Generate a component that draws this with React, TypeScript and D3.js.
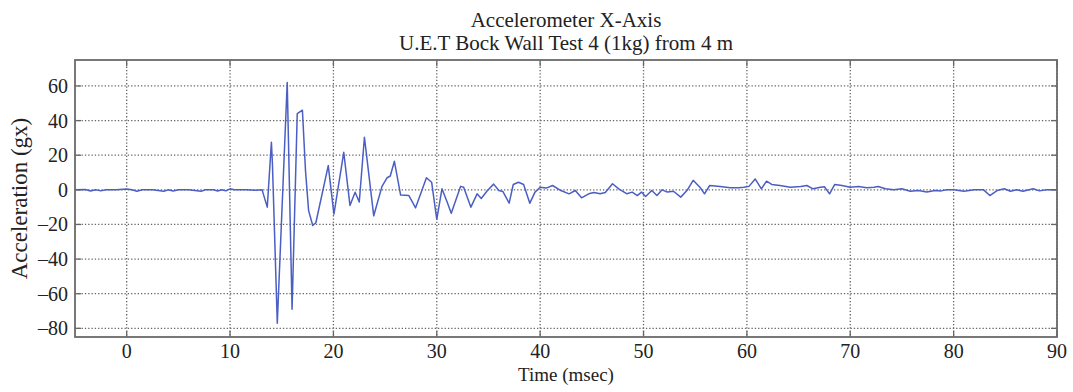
import React, { useEffect, useRef } from 'react'
import * as d3 from 'd3'

// Sample times (msec) and accelerometer readings (gx)
const timeMs = [
  -5, -4, -3.5, -3, -2.5, -2, -1, 0, 0.5, 1, 1.5, 2.5, 3.6, 4, 4.5, 5, 6, 7.2, 7.6, 8.4, 8.8, 9.2, 9.6,
  10, 10.4, 11.5, 12.5, 13.1, 13.6, 14, 14.1, 14.57, 15.53, 16, 16.5, 17, 17.3, 17.6, 18, 18.3, 19.5,
  20.05, 21, 21.6, 22.1, 22.5, 23, 23.9, 24.7, 25.2, 25.5, 25.9, 26.5, 27.3, 27.95, 29, 29.5, 30, 30.5,
  31, 31.4, 32.3, 32.6, 33.3, 33.9, 34.3, 34.9, 35.5, 36, 36.4, 37, 37.4, 37.9, 38.4, 39, 39.5, 40, 40.6,
  41.2, 42, 42.8, 43.4, 44, 44.7, 45.2, 45.8, 46.3, 47, 47.6, 48.4, 48.9, 49.4, 49.8, 50.2, 50.8, 51.3,
  51.8, 52.3, 52.9, 53.6, 54.2, 54.8, 55.5, 55.9, 56.4, 57.4, 58.4, 59.2, 59.7, 60.2, 60.8, 61.4, 61.9,
  62.4, 63.2, 64.2, 65.2, 65.8, 66.4, 67.1, 67.5, 68, 68.5, 69.2, 70, 70.8, 71.6, 72.3, 72.7, 73.4,
  74.2, 75, 75.8, 76.6, 77.4, 78.2, 78.8, 79.3, 80, 81, 82, 82.9, 83.5, 84.2, 84.9, 85.5, 86.1, 86.7,
  87.7, 88.3, 89, 90,
]
const accelGx = [
  0, 0.2, -0.7, 0, -0.6, 0, 0.1, 0.5, 0, -0.8, 0, 0.1, -0.8, 0, -0.7, 0, 0.1, -0.8, 0, 0, -0.7, 0, -0.6,
  0.6, 0, 0.1, -0.2, 0, -10, 27.5, 15, -77, 62, -69, 44, 46, 11, -12, -20.6, -19, 14,
  -14, 21.7, -9, -1.4, -7, 30.4, -15, 2, 7, 8, 16.5, -3, -3.3, -10.4, 7, 4.4, -17, 0.6,
  -7, -13.5, 2, 1.5, -10, -2.3, -5, -0.4, 3.3, -0.4, -1, -7.7, 3.1, 4.4, 3.1, -7.7, -1.3, 1.5, 1,
  2.5, -0.4, -2.3, -0.4, -4.6, -2.3, -1.5, -2.3, -1.5, 3.5, 0.6, -2.3, -1.3, -3.3, -1.3, -3.8, -0.4, -3.3,
  0, -1.3, -0.8, -4.2, -0.4, 5.5, 1.2, -2.3, 2.5, 1.9, 1.2, 1.2, 1.5, 2, 6.3, 0.6, 5,
  3.1, 2.5, 1.5, 1.9, 2.5, 0.6, 1.5, 1.8, -2.3, 3.1, 2.5, 1.5, 1.9, 1.2, 1.5, 1.9, 0.6,
  0, 0.6, -0.8, -0.4, -1.3, -0.4, -0.6, 0, 0, -0.8, 0, 0, -3.3, -0.4, 0.6, -0.8, 0, -0.8,
  0.6, -0.6, 0, 0,
]

const xTicks = [0, 10, 20, 30, 40, 50, 60, 70, 80, 90]
const yTicks = [60, 40, 20, 0, -20, -40, -60, -80]

const titleLines = ['Accelerometer X-Axis', 'U.E.T Bock Wall Test 4 (1kg) from 4 m']
const xLabel = 'Time (msec)'
const yLabel = 'Acceleration (gx)'

const width = 1073
const height = 392
const margin = { top: 60, right: 16, bottom: 55, left: 75 }

const App: React.FC = () => {
  const svgRef = useRef<SVGSVGElement>(null)

  useEffect(() => {
    if (!svgRef.current) return
    const svg = d3.select(svgRef.current)
    svg.selectAll('*').remove()

    const font = '"Liberation Serif", "Times New Roman", serif'
    const innerW = width - margin.left - margin.right
    const innerH = height - margin.top - margin.bottom

    const x = d3.scaleLinear().domain([-5, 90]).range([0, innerW])
    const y = d3.scaleLinear().domain([-85, 75]).range([innerH, 0])

    svg.append('rect').attr('width', width).attr('height', height).attr('fill', '#fff')

    const g = svg.append('g').attr('transform', `translate(${margin.left},${margin.top})`)

    // dotted grid
    const grid = g.append('g').attr('stroke', '#646464').attr('stroke-width', 1.3).attr('stroke-dasharray', '1.3 2')
    xTicks.forEach(t => {
      grid.append('line').attr('x1', x(t)).attr('x2', x(t)).attr('y1', 0).attr('y2', innerH)
    })
    yTicks.forEach(t => {
      grid.append('line').attr('x1', 0).attr('x2', innerW).attr('y1', y(t)).attr('y2', y(t))
    })

    // signal
    const pts = timeMs.map((t, i) => [t, accelGx[i]] as [number, number])
    const line = d3
      .line<[number, number]>()
      .x(d => x(d[0]))
      .y(d => y(d[1]))
    g.append('path')
      .datum(pts)
      .attr('d', line)
      .attr('fill', 'none')
      .attr('stroke', '#4b5ec4')
      .attr('stroke-width', 1.5)
      .attr('stroke-linejoin', 'round')

    // inward ticks on all four sides (matlab style)
    const tickLen = 6
    const ticks = g.append('g').attr('stroke', '#666').attr('stroke-width', 1.3)
    xTicks.forEach(t => {
      ticks.append('line').attr('x1', x(t)).attr('x2', x(t)).attr('y1', innerH).attr('y2', innerH - tickLen)
      ticks.append('line').attr('x1', x(t)).attr('x2', x(t)).attr('y1', 0).attr('y2', tickLen)
    })
    yTicks.forEach(t => {
      ticks.append('line').attr('x1', 0).attr('x2', tickLen).attr('y1', y(t)).attr('y2', y(t))
      ticks.append('line').attr('x1', innerW).attr('x2', innerW - tickLen).attr('y1', y(t)).attr('y2', y(t))
    })

    g.append('rect')
      .attr('width', innerW)
      .attr('height', innerH)
      .attr('fill', 'none')
      .attr('stroke', '#6a6a6a')
      .attr('stroke-width', 1.8)

    // tick labels
    xTicks.forEach(t => {
      g.append('text')
        .attr('x', x(t))
        .attr('y', innerH + 21)
        .attr('text-anchor', 'middle')
        .style('font-family', font)
        .style('font-size', '20px')
        .style('fill', '#222')
        .text(t)
    })
    yTicks.forEach(t => {
      g.append('text')
        .attr('x', -7)
        .attr('y', y(t) + 7)
        .attr('text-anchor', 'end')
        .style('font-family', font)
        .style('font-size', '20px')
        .style('fill', '#222')
        .text(t < 0 ? `\u2013${Math.abs(t)}` : `${t}`)
    })

    // axis labels
    g.append('text')
      .attr('x', innerW / 2)
      .attr('y', innerH + 44)
      .attr('text-anchor', 'middle')
      .style('font-family', font)
      .style('font-size', '19px')
      .style('fill', '#222')
      .text(xLabel)

    svg
      .append('text')
      .attr('transform', `translate(27,${margin.top + innerH / 2}) rotate(-90)`)
      .attr('text-anchor', 'middle')
      .style('font-family', font)
      .style('font-size', '23px')
      .style('fill', '#222')
      .text(yLabel)

    // title
    titleLines.forEach((s, i) => {
      svg
        .append('text')
        .attr('x', margin.left + innerW / 2)
        .attr('y', 27 + i * 23)
        .attr('text-anchor', 'middle')
        .style('font-family', font)
        .style('font-size', '21px')
        .style('fill', '#222')
        .text(s)
    })
  }, [])

  return (
    <div style={{ position: 'absolute', left: 0, top: 0 }}>
      <svg ref={svgRef} width={width} height={height} style={{ display: 'block' }} />
    </div>
  )
}

export default App
